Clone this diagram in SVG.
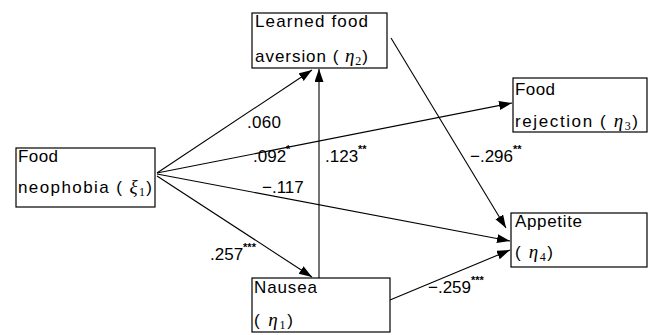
<svg xmlns="http://www.w3.org/2000/svg" width="658" height="335" viewBox="0 0 658 335">
<style>
  .box { fill: #fff; stroke: #000; stroke-width: 1.2; }
  .t { font-family: "Liberation Sans", Arial, sans-serif; font-size: 17px; fill: #000; }
  .g { font-family: "Liberation Serif", "Times New Roman", serif; font-style: italic; font-size: 19px; }
  .sub { font-family: "Liberation Serif", "Times New Roman", serif; font-size: 12px; }
  .sup { font-size: 11px; font-weight: bold; }
  .c { stroke: #000; stroke-width: 1.1; fill: none; marker-end: url(#ah); }
</style>
<defs>
  <marker id="ah" markerUnits="userSpaceOnUse" markerWidth="14" markerHeight="10" refX="13" refY="4.5" orient="auto">
    <path d="M0,0 L13,4.5 L0,9 z" fill="#000"/>
  </marker>
</defs>
<rect width="658" height="335" fill="#fff"/>

<g id="connectors">
  <line class="c" x1="157" y1="173" x2="312" y2="70"/>
  <line class="c" x1="319" y1="278" x2="319" y2="69"/>
  <line class="c" x1="157" y1="173" x2="512" y2="103"/>
  <line class="c" x1="157" y1="174" x2="510" y2="241"/>
  <line class="c" x1="157" y1="176" x2="312" y2="277"/>
  <line class="c" x1="391" y1="38" x2="506" y2="228"/>
  <line class="c" x1="390" y1="300" x2="510" y2="250"/>
</g>

<g id="labels">
  <text class="t" x="247" y="128" textLength="34">.060</text>
  <text class="t" x="253" y="162">.092<tspan class="sup" dy="-9">*</tspan></text>
  <text class="t" x="325" y="162">.123<tspan class="sup" dy="-9">**</tspan></text>
  <text class="t" x="262" y="193">−.117</text>
  <text class="t" x="470" y="162">−.296<tspan class="sup" dy="-9">**</tspan></text>
  <text class="t" x="210" y="260">.257<tspan class="sup" dy="-9">***</tspan></text>
  <text class="t" x="428" y="293">−.259<tspan class="sup" dy="-9">***</tspan></text>
</g>

<g id="food-neophobia">
  <rect class="box" x="16" y="148" width="139" height="59"/>
  <text class="t" x="18" y="162" textLength="40">Food</text>
  <text class="t" x="18" y="193" textLength="134">neophobia ( <tspan class="g">ξ</tspan><tspan class="sub" dy="3">1</tspan><tspan dy="-3">)</tspan></text>
</g>

<g id="learned-food-aversion">
  <rect class="box" x="252" y="13" width="135" height="55"/>
  <text class="t" x="255" y="27" textLength="113">Learned food</text>
  <text class="t" x="255" y="62" textLength="113">aversion ( <tspan class="g">η</tspan><tspan class="sub" dy="3">2</tspan><tspan dy="-3">)</tspan></text>
</g>

<g id="food-rejection">
  <rect class="box" x="513" y="78" width="134" height="54"/>
  <text class="t" x="515" y="95" textLength="40">Food</text>
  <text class="t" x="515" y="127" textLength="123">rejection ( <tspan class="g">η</tspan><tspan class="sub" dy="3">3</tspan><tspan dy="-3">)</tspan></text>
</g>

<g id="appetite">
  <rect class="box" x="511" y="213" width="136" height="54"/>
  <text class="t" x="515" y="227" textLength="67">Appetite</text>
  <text class="t" x="515" y="258" textLength="38">( <tspan class="g">η</tspan><tspan class="sub" dy="3">4</tspan><tspan dy="-3">)</tspan></text>
</g>

<g id="nausea">
  <rect class="box" x="252" y="278" width="138" height="54"/>
  <text class="t" x="254" y="293" textLength="63">Nausea</text>
  <text class="t" x="254" y="326" textLength="39">( <tspan class="g">η</tspan><tspan class="sub" dy="3">1</tspan><tspan dy="-3">)</tspan></text>
</g>
</svg>
